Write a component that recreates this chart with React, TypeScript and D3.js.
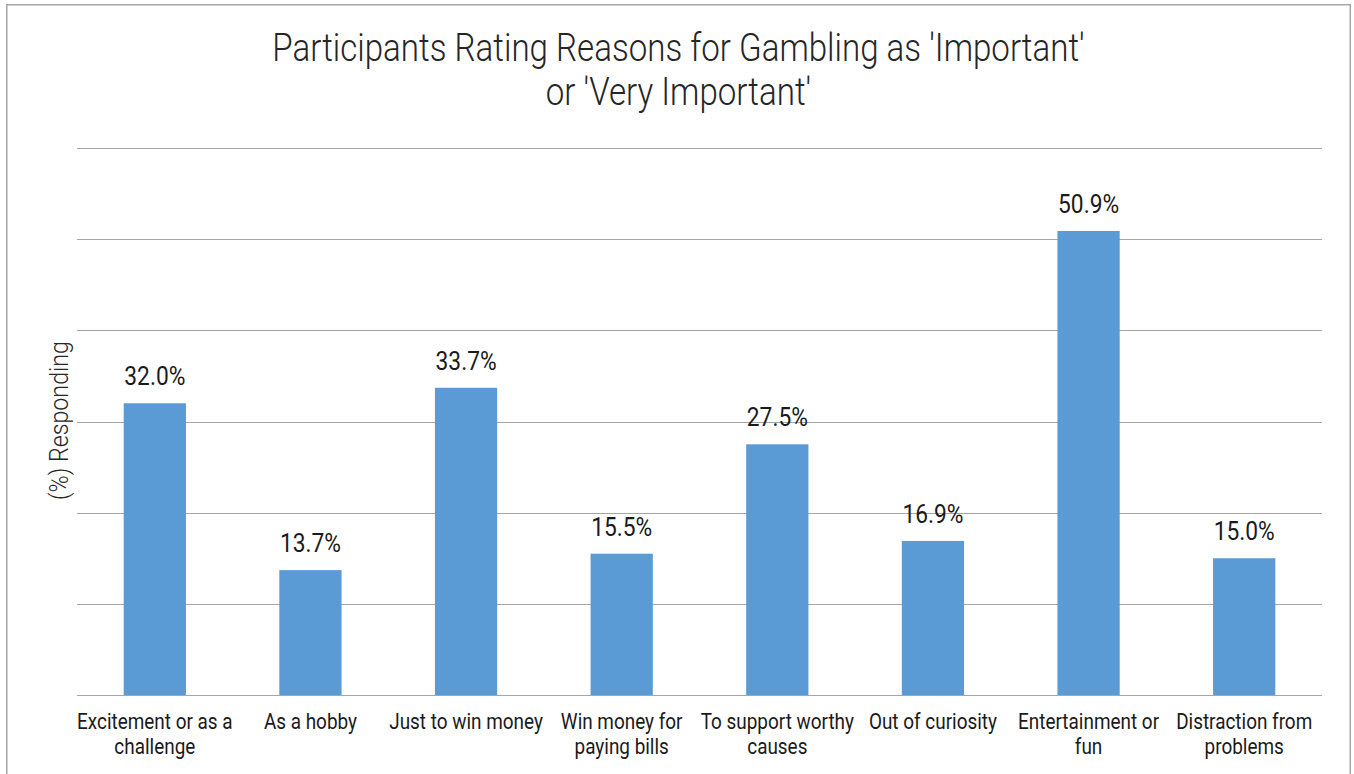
import React from "react";
import * as d3 from "d3";

const categories: string[][] = [
  ["Excitement or as a", "challenge"],
  ["As a hobby"],
  ["Just to win money"],
  ["Win money for", "paying bills"],
  ["To support worthy", "causes"],
  ["Out of curiosity"],
  ["Entertainment or", "fun"],
  ["Distraction from", "problems"],
];
const values: number[] = [32.0, 13.7, 33.7, 15.5, 27.5, 16.9, 50.9, 15.0];
const yTicks: number[] = [0, 10, 20, 30, 40, 50, 60];
const titleLines: string[] = [
  "Participants Rating Reasons for Gambling as 'Important'",
  "or 'Very Important'",
];
const yAxisTitle = "(%) Responding";

const W = 1354;
const H = 774;
const left = 77;
const right = 1322;
const top = 148;
const bottom = 695;
const FONT = "Roboto, 'Noto Sans', sans-serif";

export default function App() {
  const x = d3
    .scaleBand<number>()
    .domain(d3.range(values.length))
    .range([left, right])
    .paddingInner(0.6)
    .paddingOuter(0.3);
  const y = d3.scaleLinear().domain([0, 60]).range([bottom, top]);

  const cText = (
    key: string,
    tx: number,
    ty: number,
    txt: string,
    size: number,
    weight: number,
    sx: number,
    fill = "#1a1a1a"
  ) => (
    <text
      key={key}
      transform={`translate(${tx},${ty}) scale(${sx},1)`}
      textAnchor="middle"
      fontFamily={FONT}
      fontSize={size}
      fontWeight={weight}
      fill={fill}
    >
      {txt}
    </text>
  );

  return (
    <svg
      width={W}
      height={H}
      style={{ position: "absolute", left: 0, top: 0, background: "#fff" }}
    >
      <rect x={0} y={0} width={W} height={H} fill="#fff" />
      <rect
        x={6.75}
        y={4.75}
        width={1343.5}
        height={820}
        fill="none"
        stroke="#a6a6a6"
        strokeWidth={1.5}
      />
      {titleLines.map((t, i) =>
        cText("t" + i, 678.5, 61 + i * 44, t, 38.5, 300, 0.86, "#262626")
      )}
      {yTicks.map((t) => (
        <line
          key={"g" + t}
          x1={left}
          x2={right}
          y1={Math.round(y(t)) + 0.5}
          y2={Math.round(y(t)) + 0.5}
          stroke="#a6a6a6"
          strokeWidth={1.2}
        />
      ))}
      {values.map((v, i) => (
        <rect
          key={"b" + i}
          x={x(i)!}
          y={y(v)}
          width={x.bandwidth()}
          height={bottom - y(v)}
          fill="#5b9bd5"
        />
      ))}
      {values.map((v, i) =>
        cText(
          "v" + i,
          x(i)! + x.bandwidth() / 2,
          y(v) - 18,
          v.toFixed(1) + "%",
          25,
          400,
          0.91,
          "#1a1a1a"
        )
      )}
      {categories.map((lines, i) =>
        lines.map((l, j) =>
          cText(
            "c" + i + "_" + j,
            x(i)! + x.bandwidth() / 2,
            729 + j * 25,
            l,
            21.5,
            400,
            0.88,
            "#1a1a1a"
          )
        )
      )}
      <text
        transform={`translate(68,${(top + bottom) / 2 - 1}) rotate(-90) scale(0.93,1)`}
        textAnchor="middle"
        fontFamily={FONT}
        fontSize={25}
        fontWeight={300}
        fill="#262626"
      >
        {yAxisTitle}
      </text>
    </svg>
  );
}
